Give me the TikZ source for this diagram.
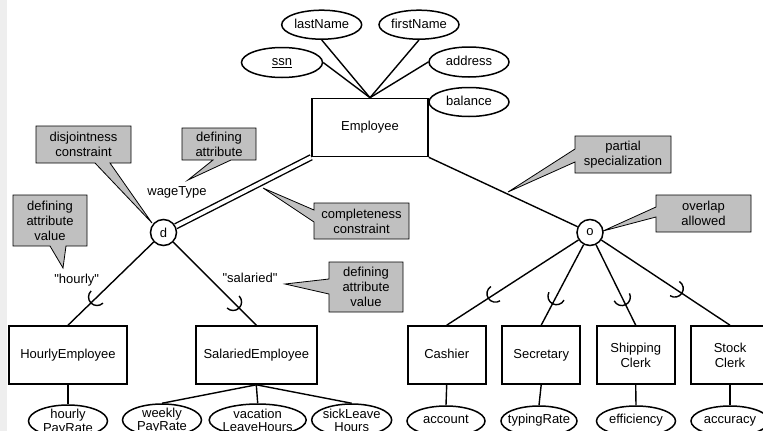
\documentclass[tikz,border=0pt]{standalone}
\usepackage{fontspec}
\setmainfont{Liberation Sans}[Ligatures=TeXOff]
\usetikzlibrary{shapes.geometric,decorations.markings,calc}
\definecolor{cg}{HTML}{C0C0C0}
\definecolor{stripc}{HTML}{EEEEEE}
\tikzset{
  txt/.style={font=\fontsize{13pt}{15pt}\selectfont, inner sep=0pt, align=center},
  one/.style={text height=9.4pt, text depth=2.6pt},
  btxt/.style={font=\fontsize{13pt}{13.5pt}\selectfont, inner sep=0pt, align=center},
  ent/.style={txt, draw, line width=1.6pt, minimum height=58pt},
  attr/.style={ellipse, draw, line width=1.5pt, inner sep=0pt, minimum height=30pt},
  spc/.style={circle, draw, fill=white, line width=1.5pt, minimum size=26pt, inner sep=0pt, font=\fontsize{13pt}{15pt}\selectfont},
  conn/.style={line width=1.4pt},
  callout/.style={fill=cg, draw=black, line width=0.8pt, line join=miter},
  sub/.style={postaction={decorate,decoration={markings,mark=at position #1 with {\draw[line width=1.4pt] (0pt,8.5pt) arc[start angle=90,end angle=270,radius=8.5pt];}}}}
}
\begin{document}
\begin{tikzpicture}[x=1pt,y=-1pt]
\path[use as bounding box] (0,0) rectangle (763,431);
\clip (0,0) rectangle (763,431);
\fill[stripc] (0,0) rectangle (7,431);

% callouts
\filldraw[callout] (36,126) -- (131,126) -- (131,163) -- (110,163) -- (152,223) -- (95,163) -- (36,163) -- cycle;
\node[txt] (c1T) at (83.5,144.5) {disjointness\\constraint};
\filldraw[callout] (182,128) -- (256,128) -- (256,160) -- (231,160) -- (188,180) -- (213,160) -- (182,160) -- cycle;
\node[txt] (c2T) at (219,144) {defining\\attribute};
\filldraw[callout] (13,195) -- (87,195) -- (87,246) -- (66,246) -- (63,268) -- (50,246) -- (13,246) -- cycle;
\node[txt] (c3T) at (50,220.5) {defining\\attribute\\value};
\filldraw[callout] (314,203) -- (409,203) -- (409,239) -- (314,239) -- (314,222) -- (263,188) -- (314,210) -- cycle;
\node[txt] (c4T) at (361.5,221) {completeness\\constraint};
\filldraw[callout] (329,262) -- (403,262) -- (403,312) -- (329,312) -- (329,294) -- (285,284) -- (329,279) -- cycle;
\node[txt] (c5T) at (366,287) {defining\\attribute\\value};
\filldraw[callout] (575,136) -- (671,136) -- (671,173) -- (575,173) -- (575,162) -- (508,192) -- (575,149) -- cycle;
\node[txt] (c6T) at (623,154.5) {partial\\specialization};
\filldraw[callout] (656,195) -- (751,195) -- (751,232) -- (656,232) -- (656,217) -- (603,231) -- (656,207) -- cycle;
\node[txt] (c7T) at (703.5,213.5) {overlap\\allowed};

% top attributes
\node[attr, minimum width=80pt, minimum height=29pt] (ln) at (321.7,24.7) {};
\node[txt,one] (lnT) at (ln) {lastName};
\node[attr, minimum width=80pt, minimum height=29pt] (fn) at (419,24.7) {};
\node[txt,one] (fnT) at (fn) {firstName};
\node[attr, minimum width=81pt] (ssn) at (282,62.5) {};
\node[txt,one] (ssnT) at (ssn) {\underline{ssn}};
\node[attr, minimum width=80pt] (addr) at (469,62) {};
\node[txt,one] (addrT) at (addr) {address};
\node[attr, minimum width=80pt, minimum height=29pt] (bal) at (469,102) {};
\node[txt,one] (balT) at (bal) {balance};

% entities
\node[ent, one, minimum width=116pt] (emp) at (370,127.5) {Employee};
\node[spc] (d) at (163.5,232.5) {d};
\node[spc] (o) at (590,232.5) {o};
\node[ent, one, minimum width=118pt] (he) at (68,355) {HourlyEmployee};
\node[ent, one, minimum width=121pt] (se) at (256.3,355) {SalariedEmployee};
\node[ent, one, minimum width=78pt] (cash) at (446.7,355) {Cashier};
\node[ent, one, minimum width=78pt] (sec) at (541.2,355) {Secretary};
\node[ent, minimum width=78pt] (ship) at (635.7,355) {Shipping\\Clerk};
\node[ent, minimum width=78pt] (stock) at (730,355) {Stock\\Clerk};

% bottom attributes
\node[attr, minimum width=79pt, minimum height=32pt] (hpr) at (68,421) {};
\node[btxt] (hprT) at (68,422) {hourly\\PayRate};
\node[attr, minimum width=79pt, minimum height=32pt] (wpr) at (162,420) {};
\node[btxt] (wprT) at (162,420.5) {weekly\\PayRate};
\node[attr, minimum width=97pt, minimum height=32pt] (vlh) at (257.7,420) {};
\node[btxt] (vlhT) at (257.7,420.5) {vacation\\LeaveHours};
\node[attr, minimum width=80pt, minimum height=32pt] (slh) at (351.7,420) {};
\node[btxt] (slhT) at (351.7,420.5) {sickLeave\\Hours};
\node[attr, minimum width=78pt] (acc) at (446,421) {};
\node[txt,one] (accT) at (446,420.5) {account};
\node[attr, minimum width=76pt] (typ) at (539,421) {};
\node[txt,one] (typT) at (539,420.5) {typingRate};
\node[attr, minimum width=79pt] (eff) at (636,421) {};
\node[txt,one] (effT) at (636,420.5) {efficiency};
\node[attr, minimum width=78pt] (accu) at (730,421) {};
\node[txt,one] (accuT) at (730,420.5) {accuracy};

% labels
\node[txt,one] (wt) at (177,192) {wageType};
\node[txt,one] (hl) at (76.7,280) {"hourly"};
\node[txt,one] (sl) at (250,279) {"salaried"};

% connectors
\draw[conn] (ssn.east) -- (emp.north);
\draw[conn] (ln.south) -- (emp.north);
\draw[conn] (fn.south) -- (emp.north);
\draw[conn] (addr.west) -- (emp.north);
\draw[conn, double, double distance=3.8pt] (emp.south west) -- (d);
\draw[conn] (emp.south east) -- (o);
\draw[conn, sub=0.34] (he.north) -- (d);
\draw[conn, sub=0.28] (se.north) -- (d);
\draw[conn, sub=0.37] (cash.north) -- (o);
\draw[conn, sub=0.36] (sec.north) -- (o);
\draw[conn, sub=0.35] (ship.north) -- (o);
\draw[conn, sub=0.43] (stock.north) -- (o);
\draw[conn] (he.south) -- (hpr.north);
\draw[conn] (se.south) -- (wpr.north);
\draw[conn] (se.south) -- (vlh.north);
\draw[conn] (se.south) -- (slh.north);
\draw[conn] (cash.south) -- (acc.north);
\draw[conn] (sec.south) -- (typ.north);
\draw[conn] (ship.south) -- (eff.north);
\draw[conn] (stock.south) -- (accu.north);
\end{tikzpicture}
\end{document}
